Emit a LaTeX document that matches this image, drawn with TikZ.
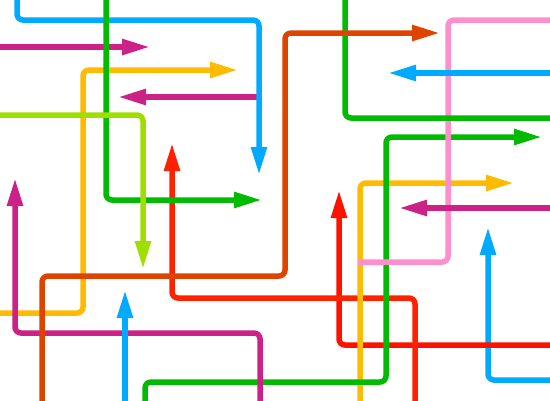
\documentclass[tikz,border=0pt]{standalone}
\usepackage{xcolor}
\usepackage{tikz}
\usetikzlibrary{arrows.meta}

\definecolor{skyblue}{HTML}{00AAFF}
\definecolor{plum}{HTML}{CC2288}
\definecolor{amber}{HTML}{FFBB00}
\definecolor{lime}{HTML}{A0DD00}
\definecolor{leaf}{HTML}{00BB00}
\definecolor{scarlet}{HTML}{FF2200}
\definecolor{crimson}{HTML}{FF1100}
\definecolor{rust}{HTML}{DD4400}
\definecolor{rose}{HTML}{FF8FCC}

\begin{document}
\begin{tikzpicture}[x=1pt,y=-1pt,
  wire/.style={line width=5.5pt,rounded corners=6pt,line cap=butt},
  tip/.style={wire,-{Triangle[length=28pt,width=15pt]}}
]
\useasboundingbox (0,0) rectangle (550,400);
\clip (0,0) rectangle (550,400);

% lower right group
\draw[tip,skyblue] (560,380) -- (488,380) -- (488,227);
\draw[tip,crimson] (560,345) -- (339,345) -- (339,190);
\draw[tip,scarlet] (415,410) -- (415,298) -- (172,298) -- (172,143);
\draw[tip,amber] (360,410) -- (360,183) -- (514,183);
\draw[tip,leaf] (145,410) -- (145,382) -- (386,382) -- (386,137) -- (542,137);
\draw[wire,rose] (560,20) -- (448,20) -- (448,262) -- (358,262);
\draw[tip,skyblue] (560,73) -- (388,73);
\draw[tip,plum] (560,208) -- (399,208);
\draw[wire,leaf] (345,-10) -- (345,118) -- (560,118);

% left group
\draw[tip,amber] (-10,313) -- (83,313) -- (83,70) -- (238,70);
\draw[tip,plum] (260,410) -- (260,333) -- (15,333) -- (15,178);
\draw[tip,rust] (42,410) -- (42,276) -- (285,276) -- (285,33) -- (440,33);
\draw[tip,skyblue] (125,410) -- (125,290);
\draw[tip,plum] (-10,47) -- (150,47);
\draw[tip,plum] (259,97) -- (118,97);
\draw[tip,skyblue] (17,-10) -- (17,20) -- (259,20) -- (259,175);
\draw[tip,leaf] (106,-10) -- (106,200) -- (262,200);
\draw[tip,lime] (-10,115) -- (143,115) -- (143,269);
\end{tikzpicture}
\end{document}
